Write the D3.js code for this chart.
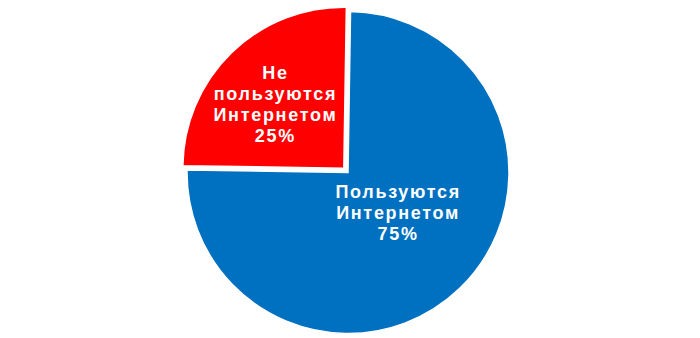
<!DOCTYPE html>
<html>
<head>
<meta charset="utf-8">
<script src="https://cdn.jsdelivr.net/npm/d3@7"></script>
<style>
  html, body { margin: 0; padding: 0; background: #fff; }
  svg { display: block; }
</style>
</head>
<body>
<svg id="chart"></svg>
<script>
// chart data
const categories = ['Пользуются Интернетом', 'Не пользуются Интернетом'];
const labelLines = [['Пользуются', 'Интернетом'], ['Не', 'пользуются', 'Интернетом']];
const values = [75, 25];
const colors = ['#0070C0', '#FF0000'];

const width = 700, height = 338;
const cx = 348, cy = 172.5, r = 161;
const rotation = 0.9 * Math.PI / 180; // Excel draws it turned a hair clockwise

const svg = d3.select('#chart')
  .attr('width', width)
  .attr('height', height);

const pie = d3.pie()
  .sort(null)
  .value(d => d)
  .startAngle(rotation)
  .endAngle(2 * Math.PI + rotation);

const arcs = pie(values);

const arc = d3.arc().innerRadius(0).outerRadius(r);

// red slice pulled out a little, blue stays in place
const explode = [0, 6];
// where each label sits (fraction of radius, angle tweak in degrees)
const labelPos = [{ k: 0.40, da: -7 }, { k: 0.58, da: -3 }];

const g = svg.append('g').attr('transform', `translate(${cx},${cy})`);

const slices = g.selectAll('g.slice')
  .data(arcs)
  .enter()
  .append('g')
  .attr('class', 'slice')
  .attr('transform', (d, i) => {
    const mid = (d.startAngle + d.endAngle) / 2;
    return `translate(${Math.sin(mid) * explode[i]},${-Math.cos(mid) * explode[i]})`;
  });

slices.append('path')
  .attr('d', arc)
  .attr('fill', (d, i) => colors[i])
  .attr('stroke', '#fff')
  .attr('stroke-width', 1.5)
  .attr('stroke-linejoin', 'miter');

const lineH = 21;

slices.each(function (d, i) {
  const mid = (d.startAngle + d.endAngle) / 2 + labelPos[i].da * Math.PI / 180;
  const lr = r * labelPos[i].k;
  const lx = Math.sin(mid) * lr;
  const ly = -Math.cos(mid) * lr;
  const lines = labelLines[i].concat([values[i] + '%']);
  const t = d3.select(this).append('text')
    .attr('text-anchor', 'middle')
    .attr('font-family', '"Liberation Sans", Arial, sans-serif')
    .attr('font-weight', 'bold')
    .attr('font-size', 18)
    .attr('letter-spacing', 1.7)
    .attr('fill', '#fff');
  const y0 = ly - (lines.length - 1) * lineH / 2;
  lines.forEach((s, j) => {
    t.append('tspan')
      .attr('x', lx)
      .attr('y', y0 + j * lineH)
      .attr('dy', '0.35em')
      .text(s);
  });
});
</script>
</body>
</html>
